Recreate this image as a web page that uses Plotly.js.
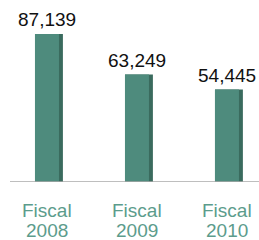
<!DOCTYPE html>
<html>
<head>
<meta charset="utf-8">
<script src="https://cdn.plot.ly/plotly-3.0.1.min.js"></script>
<style>html,body{margin:0;padding:0;background:#fff;}#chart{width:259px;height:240px;}</style>
</head>
<body>
<div id="chart"></div>
<script>
var labelTop = ['Fiscal', 'Fiscal', 'Fiscal'];
var years = ['2008', '2009', '2010'];
var values = [87139, 63249, 54445];
var valueLabels = ['87,139', '63,249', '54,445'];

var xs = values.map(function (v, i) { return i; });
var FRONT = '#4e8b7d', SIDE = '#3a6b5e', TXT = '#5c9c8c';

var side = {
  type: 'bar', x: xs, y: values, width: 0.31, offset: -0.133,
  marker: { color: SIDE, line: { width: 0 } }, hoverinfo: 'skip'
};
var front = {
  type: 'bar', x: xs, y: values, width: 0.267, offset: -0.1335,
  marker: { color: FRONT, line: { width: 0 } }, hoverinfo: 'skip'
};

var FONT = 'Liberation Sans, Arial, sans-serif';
var ann = [];
xs.forEach(function (x, i) {
  ann.push({ x: x, y: values[i], xref: 'x', yref: 'y', text: valueLabels[i], showarrow: false,
    yanchor: 'bottom', yshift: 2, font: { family: FONT, size: 19, color: '#111' } });
  ann.push({ x: x, y: 0, xref: 'x', yref: 'paper', text: labelTop[i], showarrow: false,
    yanchor: 'middle', yshift: -28, font: { family: FONT, size: 19, color: TXT } });
  ann.push({ x: x, y: 0, xref: 'x', yref: 'paper', text: years[i], showarrow: false,
    yanchor: 'middle', yshift: -48, font: { family: FONT, size: 19, color: TXT } });
});

var layout = {
  width: 259, height: 240,
  margin: { l: 0, r: 0, t: 0, b: 58, pad: 0 },
  paper_bgcolor: '#fff', plot_bgcolor: '#fff',
  barmode: 'overlay', showlegend: false,
  xaxis: { range: [-0.522, 2.356], visible: false, fixedrange: true },
  yaxis: { range: [0, 107157], visible: false, fixedrange: true },
  shapes: [{ type: 'line', xref: 'paper', yref: 'y', x0: 10 / 259, x1: 1, y0: 0, y1: 0,
    line: { color: '#a8a8a8', width: 1.5 } }],
  annotations: ann
};

Plotly.newPlot('chart', [side, front], layout, { displayModeBar: false, staticPlot: true });
</script>
</body>
</html>
